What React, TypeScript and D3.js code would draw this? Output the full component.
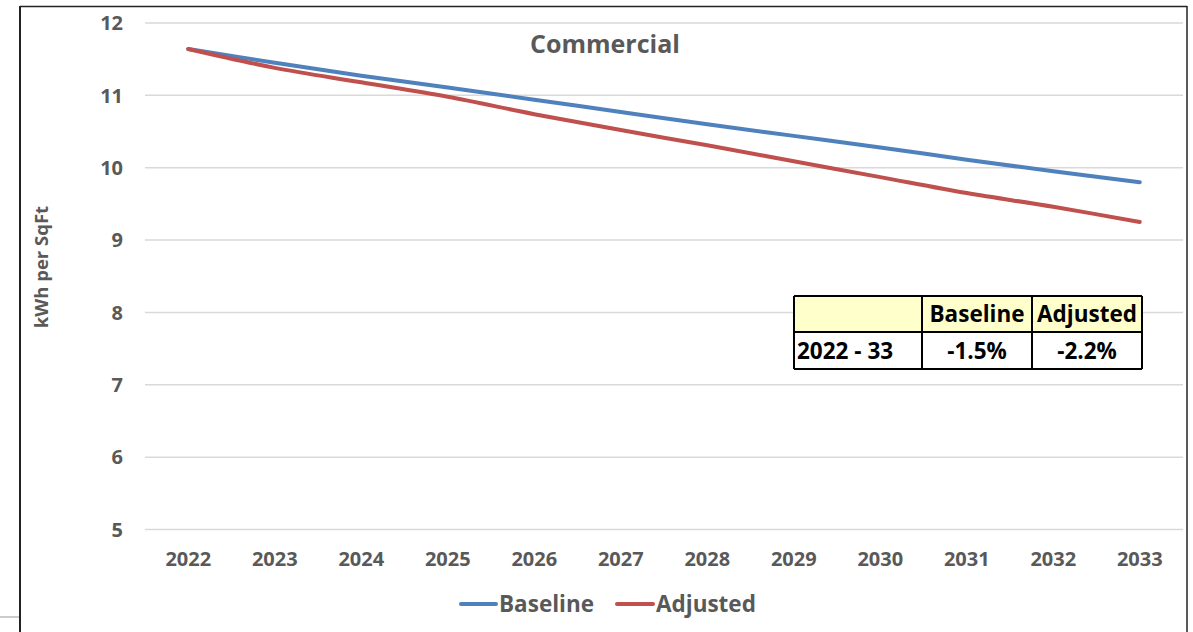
import React from "react";
import * as d3 from "d3";

const years = ["2022","2023","2024","2025","2026","2027","2028","2029","2030","2031","2032","2033"];
const baseline = [11.64, 11.45, 11.27, 11.11, 10.94, 10.77, 10.60, 10.44, 10.28, 10.11, 9.95, 9.80];
const adjusted = [11.64, 11.38, 11.18, 10.98, 10.74, 10.52, 10.31, 10.09, 9.87, 9.65, 9.46, 9.25];
const yTicks = [5, 6, 7, 8, 9, 10, 11, 12];
const seriesNames = ["Baseline", "Adjusted"];
const seriesColors = ["#4F81BD", "#C0504D"];
const tableHeader = ["", "Baseline", "Adjusted"];
const tableRow = ["2022 - 33", "-1.5%", "-2.2%"];

const W = 1193, H = 632;
const FONT = "'Open Sans', Lato, sans-serif";

export default function App() {
  const x = d3.scaleBand<string>().domain(years).range([145, 1183]);
  const y = d3.scaleLinear().domain([5, 12]).range([529.5, 23]);
  const line = d3.line<number>()
    .x((_, i) => (x(years[i]) as number) + x.bandwidth() / 2)
    .y(d => y(d))
    .curve(d3.curveCatmullRom.alpha(0.5));
  const series = [baseline, adjusted];

  const tx = [794, 922, 1032, 1142];
  const ty = [296, 332, 369];

  return (
    <div style={{ position: "fixed", left: 0, top: 0 }}>
      <svg width={W} height={H} style={{ display: "block", background: "#fff" }}>
        <rect x={0} y={0} width={W} height={H} fill="#fff" />
        <line x1={20} y1={6.5} x2={1187} y2={6.5} stroke="#222" strokeWidth={1.5} />
        <line x1={20} y1={6} x2={20} y2={H} stroke="#222" strokeWidth={2} />
        <line x1={1187} y1={6} x2={1187} y2={H} stroke="#222" strokeWidth={1.5} />
        <line x1={0} y1={617} x2={19} y2={617} stroke="#bbb" strokeWidth={1.5} />

        {yTicks.map(t => (
          <g key={t}>
            <line x1={145} x2={1183} y1={y(t)} y2={y(t)} stroke="#d9d9d9" strokeWidth={1.5} />
            <text x={123} y={y(t)} dy="0.36em" textAnchor="end" fontFamily={FONT} fontWeight="bold" fontSize={20} fill="#595959">{t}</text>
          </g>
        ))}
        {years.map(yr => (
          <text key={yr} x={(x(yr) as number) + x.bandwidth() / 2} y={559} dy="0.36em" textAnchor="middle" fontFamily={FONT} fontWeight="bold" fontSize={20} fill="#595959">{yr}</text>
        ))}

        <text transform="translate(41,267) rotate(-90)" textAnchor="middle" dy="0.36em" fontFamily={FONT} fontWeight="bold" fontSize={18.5} fill="#595959">kWh per SqFt</text>

        <text x={605} y={44} dy="0.36em" textAnchor="middle" fontFamily={FONT} fontWeight="bold" fontSize={25} fill="#595959">Commercial</text>

        {series.map((s, i) => (
          <path key={i} d={line(s) || ""} fill="none" stroke={seriesColors[i]} strokeWidth={4} strokeLinecap="round" strokeLinejoin="round" />
        ))}

        <line x1={461} x2={496} y1={604} y2={604} stroke={seriesColors[0]} strokeWidth={4} strokeLinecap="round" />
        <text x={499} y={604} dy="0.36em" fontFamily={FONT} fontWeight="bold" fontSize={22.5} fill="#595959">{seriesNames[0]}</text>
        <line x1={617} x2={653} y1={604} y2={604} stroke={seriesColors[1]} strokeWidth={4} strokeLinecap="round" />
        <text x={656} y={604} dy="0.36em" fontFamily={FONT} fontWeight="bold" fontSize={22.5} fill="#595959">{seriesNames[1]}</text>

        <rect x={tx[0]} y={ty[0]} width={tx[3] - tx[0]} height={ty[1] - ty[0]} fill="#FFFFCC" />
        <rect x={tx[0]} y={ty[1]} width={tx[3] - tx[0]} height={ty[2] - ty[1]} fill="#fff" />
        {tx.map((v, i) => (
          <line key={"v" + i} x1={v} x2={v} y1={ty[0]} y2={ty[2]} stroke="#000" strokeWidth={2} />
        ))}
        {ty.map((v, i) => (
          <line key={"h" + i} x1={tx[0]} x2={tx[3]} y1={v} y2={v} stroke="#000" strokeWidth={2} />
        ))}
        {tableHeader.map((t, i) => (
          <text key={"th" + i} x={(tx[i] + tx[i + 1]) / 2} y={(ty[0] + ty[1]) / 2} dy="0.36em" textAnchor="middle" fontFamily={FONT} fontWeight="bold" fontSize={22.5} fill="#000">{t}</text>
        ))}
        {tableRow.map((t, i) => (
          <text key={"td" + i} x={i === 0 ? tx[0] + 3 : (tx[i] + tx[i + 1]) / 2} y={(ty[1] + ty[2]) / 2} dy="0.36em" textAnchor={i === 0 ? "start" : "middle"} fontFamily={FONT} fontWeight="bold" fontSize={22.5} fill="#000">{t}</text>
        ))}
      </svg>
    </div>
  );
}
